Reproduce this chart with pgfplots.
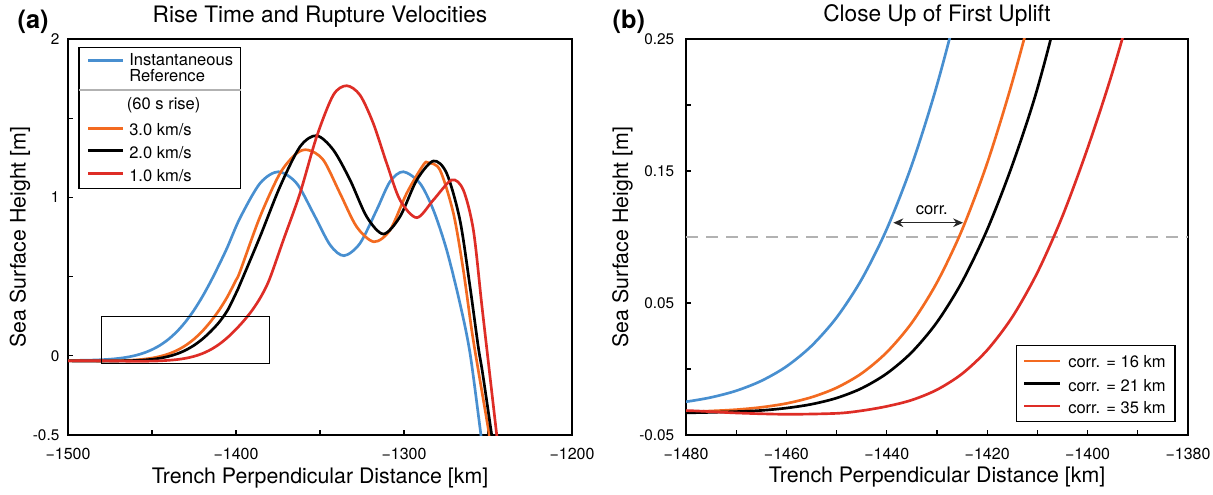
\documentclass[border=0pt]{standalone}
\usepackage{fontspec}
\setmainfont{TeX Gyre Heros}
\usepackage{pgfplots}
\usepackage{pgfplotstable}
\pgfplotsset{compat=1.18}
\usetikzlibrary{arrows.meta}

\definecolor{cblue}{RGB}{72,143,208}
\definecolor{corange}{RGB}{243,106,32}
\definecolor{cred}{RGB}{222,45,38}
\definecolor{cgray}{RGB}{178,178,178}

\pgfplotstableread{
x y
-1500 -0.0294
-1490 -0.0282
-1485 -0.0269
-1480 -0.0248
-1475 -0.0215
-1470 -0.0165
-1465 -0.0090
-1460 0.0019
-1455 0.0175
-1450 0.0390
-1445 0.0680
-1440 0.1061
-1435 0.1548
-1430 0.2152
-1425 0.2881
-1420 0.3735
-1415 0.4702
-1410 0.5763
-1405 0.6883
-1397.6 0.870
-1385.7 1.089
-1374.8 1.162
-1363.9 1.089
-1354 0.90
-1344 0.70
-1335.7 0.632
-1326.2 0.71
-1316.3 0.92
-1308.3 1.10
-1300.4 1.162
-1290.5 1.089
-1282.5 0.92
-1274.6 0.668
-1266.7 0.331
-1260.7 0.016
-1254.2 -0.5
-1252 -0.68
}\tblBlue

\pgfplotstableread{
x y
-1500 -0.031
-1490 -0.0318
-1480 -0.0324
-1475 -0.0318
-1470 -0.0308
-1465 -0.0290
-1460 -0.0261
-1455 -0.0214
-1450 -0.0142
-1445 -0.0033
-1440 0.0127
-1435 0.0351
-1430 0.0656
-1425 0.1055
-1420 0.1560
-1415 0.2175
-1410 0.2892
-1405 0.375
-1400 0.478
-1397.6 0.532
-1385.7 0.878
-1373.8 1.152
-1363.9 1.278
-1357 1.299
-1348 1.236
-1338.1 1.026
-1328.2 0.815
-1317.9 0.72
-1308.3 0.794
-1298.4 1.026
-1288.5 1.205
-1285.5 1.219
-1278.6 1.173
-1270.6 0.90
-1264.7 0.542
-1259.7 0.163
-1255.8 -0.09
-1249.2 -0.5
-1247 -0.65
}\tblOrange

\pgfplotstableread{
x y
-1500 -0.032
-1490 -0.0330
-1480 -0.0332
-1470 -0.0323
-1465 -0.0314
-1460 -0.0296
-1455 -0.0267
-1450 -0.0220
-1445 -0.0146
-1440 -0.0034
-1435 0.0128
-1430 0.0355
-1425 0.0661
-1420 0.1056
-1415 0.1545
-1410 0.2125
-1405 0.288
-1400 0.395
-1397.6 0.452
-1385.7 0.752
-1373.8 1.068
-1361.9 1.32
-1352 1.39
-1342.1 1.30
-1332.1 1.11
-1322.2 0.878
-1312.3 0.769
-1302.4 0.878
-1292.4 1.11
-1282.5 1.23
-1274.6 1.152
-1266.7 0.857
-1260.7 0.436
-1255.8 0.057
-1253.2 -0.11
-1247.8 -0.5
-1246 -0.64
}\tblBlack

\pgfplotstableread{
x y
-1500 -0.032
-1490 -0.0315
-1480 -0.0315
-1470 -0.0333
-1460 -0.0343
-1450 -0.0336
-1445 -0.0316
-1440 -0.0283
-1435 -0.0235
-1430 -0.0157
-1425 -0.0036
-1420 0.0143
-1415 0.0394
-1410 0.0731
-1405 0.1159
-1400 0.1673
-1395 0.2255
-1390 0.293
-1385 0.376
-1380 0.485
-1371.8 0.731
-1361.9 1.026
-1352 1.383
-1342.1 1.646
-1334.1 1.705
-1326.2 1.646
-1318.3 1.468
-1310.3 1.215
-1302.4 0.984
-1292.4 0.872
-1282.5 0.984
-1271.6 1.11
-1264.7 1.047
-1258.7 0.794
-1253.8 0.331
-1250.4 0.016
-1244.8 -0.5
-1243 -0.66
}\tblRed

\pgfplotsset{
  common/.style={
    scale only axis, anchor=south west, height=297pt,
    axis line style={line width=0.9pt},
    every tick/.style={black, line width=0.9pt},
    tick align=inside, tick pos=left, major tick length=3.75pt,
    xticklabel style={font=\fontsize{12}{14}\selectfont, yshift=-6pt},
    yticklabel style={font=\fontsize{11.5}{13}\selectfont},
    title style={font=\fontsize{17}{20}\selectfont, at={(0.5,1)}, anchor=base, yshift=6.75pt},
    xlabel style={font=\fontsize{16}{19}\selectfont, at={(axis description cs:0.5,-0.1212)}, anchor=base},
    every axis plot/.append style={line width=2pt},
  },
  crv/.style={smooth, tension=0.5},
}

\begin{document}
\begin{tikzpicture}
\path[use as bounding box] (0,0) rectangle (909.75pt,370.5pt);

% ---------------- panel (a)
\begin{axis}[common,
  at={(51pt,44.25pt)}, width=378pt,
  xmin=-1500, xmax=-1200, ymin=-0.5, ymax=2,
  xtick={-1500,-1450,-1400,-1350,-1300,-1250,-1200},
  xticklabels={−1500,,−1400,,−1300,,−1200},
  ytick={-0.5,0,0.5,1,1.5,2},
  yticklabels={-0.5,0,,1,,2},
  yticklabel style={xshift=-3pt},
  title={Rise Time and Rupture Velocities},
  xlabel={Trench Perpendicular Distance [km]},
  ylabel={Sea Surface Height [m]},
  ylabel style={font=\fontsize{16}{19}\selectfont, at={(axis description cs:-0.0843,0.5)}, anchor=base},
]
\addplot[cblue, crv] table[x=x,y=y] {\tblBlue};
\addplot[corange, crv] table[x=x,y=y] {\tblOrange};
\addplot[black, crv] table[x=x,y=y] {\tblBlack};
\addplot[cred, crv] table[x=x,y=y] {\tblRed};
\addplot[black, line width=0.9pt] coordinates {(-1480,-0.05) (-1380,-0.05) (-1380,0.25) (-1480,0.25) (-1480,-0.05)};
\end{axis}

% ---------------- panel (b)
\begin{axis}[common,
  at={(514.5pt,44.25pt)}, width=376.5pt,
  xmin=-1480, xmax=-1380, ymin=-0.05, ymax=0.25,
  xtick={-1480,-1470,-1460,-1450,-1440,-1430,-1420,-1410,-1400,-1390,-1380},
  xticklabels={−1480,,−1460,,−1440,,−1420,,−1400,,−1380},
  ytick={-0.05,0,0.05,0.1,0.15,0.2,0.25},
  yticklabels={-0.05,,0.05,,0.15,,0.25},
  yticklabel style={xshift=-5.3pt},
  title={Close Up of First Uplift},
  xlabel={Trench Perpendicular Distance [km]},
  ylabel={Sea Surface Height [m]},
  ylabel style={font=\fontsize{16}{19}\selectfont, at={(axis description cs:-0.1155,0.5)}, anchor=base},
]
\addplot[cgray, line width=1.1pt, dash pattern=on 9pt off 6pt] coordinates {(-1480,0.1) (-1380,0.1)};
\addplot[cblue, crv] table[x=x,y=y] {\tblBlue};
\addplot[corange, crv] table[x=x,y=y] {\tblOrange};
\addplot[black, crv] table[x=x,y=y] {\tblBlack};
\addplot[cred, crv] table[x=x,y=y] {\tblRed};
\draw[{Stealth[length=7.5pt,width=6.5pt]}-{Stealth[length=7.5pt,width=6.5pt]}, line width=1.1pt, black!85]
  (axis cs:-1438.7,0.1108) -- (axis cs:-1424.8,0.1108);
\node[anchor=base, font=\fontsize{12.4}{14.9}\selectfont] at (axis cs:-1431.05,0.1174) {corr.};
\end{axis}

% ---------------- legend (a)
\begin{scope}[font=\fontsize{12.4}{14.9}\selectfont]
\draw[black, line width=0.9pt, fill=white] (59.25pt,229pt) rectangle (180.5pt,334.7pt);
\draw[cblue, line width=2pt] (66.2pt,325.3pt) -- (92.5pt,325.3pt);
\node[anchor=base west, inner sep=0pt] at (96.75pt,321pt) {Instantaneous};
\node[anchor=base west, inner sep=0pt] at (96.75pt,309.2pt) {Reference};
\draw[cgray, line width=1.1pt] (59.25pt,303pt) -- (180.5pt,303pt);
\node[anchor=base west, inner sep=0pt] at (95pt,288.5pt) {(60 s rise)};
\draw[corange, line width=2pt] (66.2pt,274.3pt) -- (92.5pt,274.3pt);
\node[anchor=base west, inner sep=0pt] at (96.75pt,269.25pt) {3.0 km/s};
\draw[black, line width=2pt] (66.2pt,257.5pt) -- (92.5pt,257.5pt);
\node[anchor=base west, inner sep=0pt] at (96.75pt,252pt) {2.0 km/s};
\draw[cred, line width=2pt] (66.2pt,240.3pt) -- (92.5pt,240.3pt);
\node[anchor=base west, inner sep=0pt] at (96.75pt,234.75pt) {1.0 km/s};

% ---------------- legend (b)
\draw[black, line width=0.9pt, fill=white] (762.5pt,54.2pt) rectangle (881.25pt,111.2pt);
\draw[corange, line width=2pt] (768pt,99.75pt) -- (795pt,99.75pt);
\node[anchor=base west, inner sep=0pt] at (801pt,95pt) {corr. = 16 km};
\draw[black, line width=2pt] (768pt,83pt) -- (795pt,83pt);
\node[anchor=base west, inner sep=0pt] at (801pt,77.25pt) {corr. = 21 km};
\draw[cred, line width=2pt] (768pt,66pt) -- (795pt,66pt);
\node[anchor=base west, inner sep=0pt] at (801pt,60.5pt) {corr. = 35 km};
\end{scope}

\node[anchor=base west, font=\bfseries\fontsize{19}{22}\selectfont] at (9.75pt,348.75pt) {(a)};
\node[anchor=base west, font=\bfseries\fontsize{19}{22}\selectfont] at (456pt,348.75pt) {(b)};
\end{tikzpicture}
\end{document}
